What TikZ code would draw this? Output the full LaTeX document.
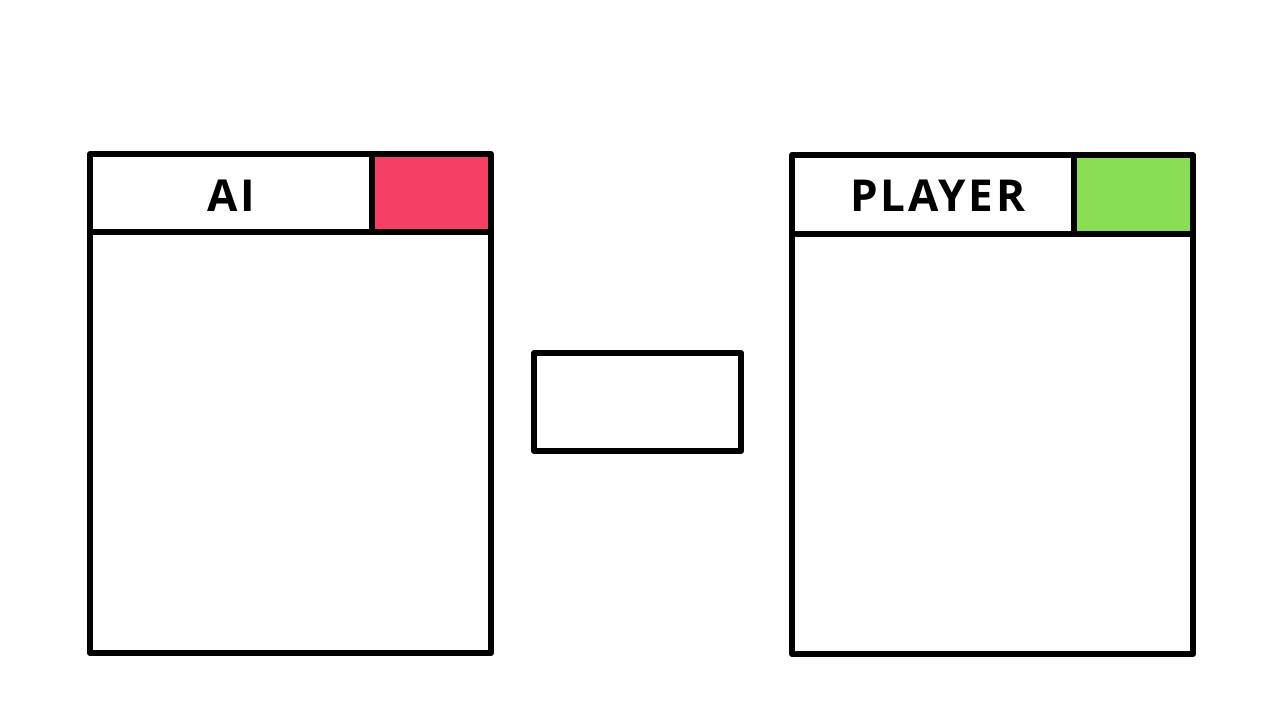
\documentclass[tikz,border=0pt]{standalone}
\usepackage{fontspec}
\setmainfont{Open Sans}
\definecolor{aired}{HTML}{F44064}
\definecolor{plgreen}{HTML}{8ADE55}
\begin{document}
\begin{tikzpicture}[x=1pt,y=-1pt,
  edge/.style={line width=6pt,line join=round,line cap=round,draw=black},
  label/.style={font=\fontsize{44}{48}\selectfont\bfseries\addfontfeatures{LetterSpace=6},inner sep=0pt,anchor=center}]
\useasboundingbox (0,0) rectangle (1280,720);
\fill[white] (0,0) rectangle (1280,720);
% left panel
\fill[aired] (372,154) rectangle (490,231);
\draw[edge] (90,154) rectangle (491,653);
\draw[edge] (90,232) -- (491,232);
\draw[edge] (372,154) -- (372,232);
\node[label] (ai) at (231,196) {AI};
% middle box
\draw[edge] (534,353) rectangle (741,451);
\node (mid) at (637,402) {};
% right panel
\fill[plgreen] (1074,156) rectangle (1192,233);
\draw[edge] (792,155) rectangle (1193,654);
\draw[edge] (792,234) -- (1193,234);
\draw[edge] (1074,155) -- (1074,234);
\node[label] (player) at (938,196) {PLAYER};
\end{tikzpicture}
\end{document}
